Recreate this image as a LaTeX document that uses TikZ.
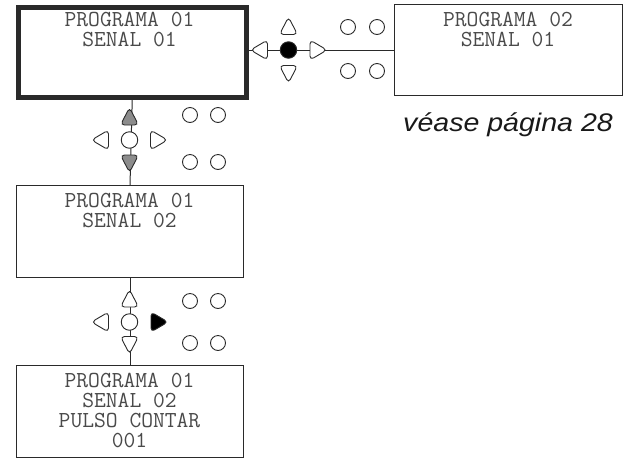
\documentclass[tikz,border=0pt]{standalone}
\usepackage{fontspec}
\newfontfamily\notefont{Liberation Sans}
\definecolor{txt}{HTML}{4A4A4A}
\definecolor{ln}{HTML}{2A2A2A}
\definecolor{keygray}{HTML}{8C8C8C}
\tikzset{
  keyfill/.initial=white,
  screen/.style={draw=ln, line width=1pt, minimum width=227pt, minimum height=92pt, inner sep=0pt},
  keyline/.style={draw=ln, line width=0.9pt},
  trup/.pic={\path[keyline, fill=\pgfkeysvalueof{/tikz/keyfill}, rounded corners=4pt] (0,-9) -- (9,8.5) -- (-9,8.5) -- cycle;},
  trdown/.pic={\path[keyline, fill=\pgfkeysvalueof{/tikz/keyfill}, rounded corners=4pt] (0,9) -- (9,-8.5) -- (-9,-8.5) -- cycle;},
  trleft/.pic={\path[keyline, fill=\pgfkeysvalueof{/tikz/keyfill}, rounded corners=4pt] (-8.5,0) -- (8.5,-10) -- (8.5,10) -- cycle;},
  trright/.pic={\path[keyline, fill=\pgfkeysvalueof{/tikz/keyfill}, rounded corners=4pt] (8.5,0) -- (-8.5,-10) -- (-8.5,10) -- cycle;},
  btn/.style={keyline, fill=white, circle, minimum size=15pt, inner sep=0pt},
  ctr/.style={keyline, fill=white, circle, minimum size=16.5pt, inner sep=0pt},
  screentext/.style={font=\ttfamily\fontsize{22.9}{20}\selectfont, text=txt, align=center, anchor=base, inner sep=0pt}
}
\begin{document}
\begin{tikzpicture}[x=1pt,y=-1pt]
\useasboundingbox (0,0) rectangle (629,459);
% screens
\node[screen, line width=5pt, minimum width=227.5pt, minimum height=90pt, anchor=north west] (s1) at (16,4.5) {};
\node[screen, anchor=north west, minimum width=228pt, minimum height=91pt] (s2) at (394,4) {};
\node[screen, anchor=north west] (s3) at (16,185) {};
\node[screen, anchor=north west] (s4) at (16,365) {};
% texts: anchor=base is the baseline of the last line
\node[screentext] (t1) at (129.5,46) {PROGRAMA 01\\SENAL 01};
\node[screentext] (t2) at (508,46) {PROGRAMA 02\\SENAL 01};
\node[screentext] (t3) at (129.5,227) {PROGRAMA 01\\SENAL 02};
\node[screentext] (t4) at (129.5,447) {PROGRAMA 01\\SENAL 02\\PULSO CONTAR\\001};
% connectors
\draw[ln, line width=1pt] (s1.east |- 0,50) coordinate (h1) -- (s2.west |- 0,50) coordinate (h2);
\draw[ln, line width=1pt] (s1.south) -- (s3.north);
\draw[ln, line width=1pt] (s3.south) -- (s4.north);
% note
\node[font=\notefont\itshape\fontsize{25.5}{26}\selectfont, text=black!90, anchor=base west, inner sep=0pt, xscale=1.12] (note) at (403,131) {véase página 28};
% keypad 1
\pic at (259,50) {trleft};
\node[ctr, fill=black] (c1) at (288.5,50) {};
\pic at (318.5,50) {trright};
\pic at (288.5,26) {trup};
\pic at (288.5,74) {trdown};
\node[btn] (b1a) at (348,27) {};
\node[btn] (b1b) at (377,27) {};
\node[btn] (b1c) at (348,71) {};
\node[btn] (b1d) at (377,71) {};
% keypad 2
\pic[keyfill=keygray] at (129.5,116.5) {trup};
\node[ctr] (c2) at (129.5,140) {};
\pic[keyfill=keygray] at (129.5,163.5) {trdown};
\pic at (100,140) {trleft};
\pic at (159,140) {trright};
\node[btn] (b2a) at (190,115) {};
\node[btn] (b2b) at (218,115) {};
\node[btn] (b2c) at (190,162) {};
\node[btn] (b2d) at (218,162) {};
% keypad 3
\pic at (129.5,298.5) {trup};
\node[ctr] (c3) at (129.5,322) {};
\pic at (129.5,345) {trdown};
\pic at (100,322) {trleft};
\pic[keyfill=black] at (159.5,322) {trright};
\node[btn] (b3a) at (190,301) {};
\node[btn] (b3b) at (218,301) {};
\node[btn] (b3c) at (190,343) {};
\node[btn] (b3d) at (218,343) {};
\end{tikzpicture}
\end{document}
